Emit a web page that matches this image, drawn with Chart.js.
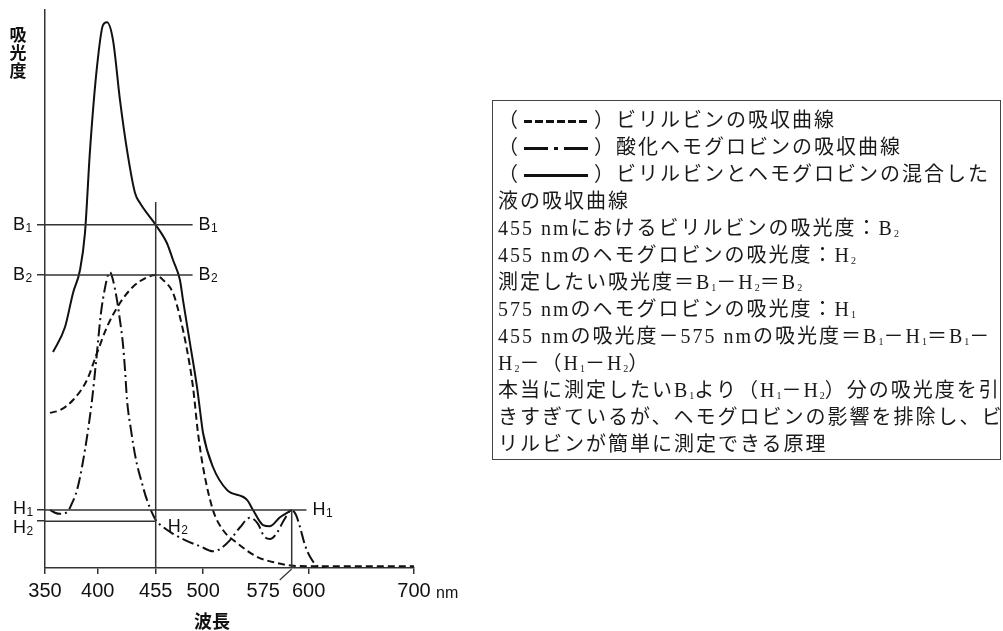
<!DOCTYPE html>
<html>
<head>
<meta charset="utf-8">
<script src="https://cdn.jsdelivr.net/npm/chart.js@4.4.1/dist/chart.umd.min.js"></script>
<style>
body { margin: 0; background: #fff; }
#wrap { position: relative; width: 1003px; height: 631px; overflow: hidden; }
#chart { position: absolute; left: 0; top: 0; }
#note {
    position: absolute; left: 492px; top: 100px; width: 509px; height: 360px;
    box-sizing: border-box; border: 1px solid #444;
    padding: 6px 0 0 5px;
    font-family: "Liberation Serif", "Noto Sans CJK JP", serif;
    font-size: 20px; line-height: 27px; letter-spacing: 2px; color: #1a1a1a;
    white-space: nowrap;
}
#note sub { font-size: 10px; vertical-align: -2px; line-height: 0; letter-spacing: 0; }
.sym { display: inline-block; width: 64px; height: 3px; margin: 0 6px 0 4px; vertical-align: middle; position: relative; top: -1px; }
.sym.dash { background: repeating-linear-gradient(90deg, #111 0 8px, transparent 8px 11px); }
.sym.dashdot { background: linear-gradient(90deg, #111 0 24px, transparent 24px 30px, #111 30px 34px, transparent 34px 40px, #111 40px 64px); }
.sym.solid { background: #111; }
</style>
</head>
<body>
<div id="wrap">
<canvas id="chart" width="1003" height="631"></canvas>
<div id="note">
<div>（<span class="sym dash"></span>）ビリルビンの吸収曲線</div>
<div>（<span class="sym dashdot"></span>）酸化ヘモグロビンの吸収曲線</div>
<div>（<span class="sym solid"></span>）ビリルビンとヘモグロビンの混合した</div>
<div>液の吸収曲線</div>
<div>455 nmにおけるビリルビンの吸光度：B<sub>2</sub></div>
<div>455 nmのヘモグロビンの吸光度：H<sub>2</sub></div>
<div>測定したい吸光度＝B<sub>1</sub>－H<sub>2</sub>＝B<sub>2</sub></div>
<div>575 nmのヘモグロビンの吸光度：H<sub>1</sub></div>
<div>455 nmの吸光度－575 nmの吸光度＝B<sub>1</sub>－H<sub>1</sub>＝B<sub>1</sub>－</div>
<div>H<sub>2</sub>－（H<sub>1</sub>－H<sub>2</sub>）</div>
<div>本当に測定したいB<sub>1</sub>より（H<sub>1</sub>－H<sub>2</sub>）分の吸光度を引</div>
<div>きすぎているが、ヘモグロビンの影響を排除し、ビ</div>
<div>リルビンが簡単に測定できる原理</div>
</div>
</div>
<script>
"use strict";
// wavelength (nm) / absorbance (arbitrary 0-100)
const mixX = [357.6, 369, 376.6, 383.2, 387.9, 392.7, 399.3, 405, 408.8, 414.5, 421.1, 427.8, 435.4, 440.1, 455, 465.7, 471.4, 478, 480.9, 487.5, 494.2, 497, 499.9, 509.3, 522.6, 541.6, 547.3, 556.8, 563.4, 572.9, 584];
const mixY = [38.7, 43.2, 49.3, 53.4, 60.0, 74.9, 89.8, 97.3, 97.8, 94.6, 83.9, 74.9, 67.2, 65.4, 61.5, 58.2, 55.2, 51.6, 48.0, 40.3, 32.4, 28.3, 24.2, 18.1, 14.0, 12.2, 10.4, 7.7, 7.5, 9.1, 10.4];

const biliX = [354.7, 364.2, 376.6, 389.8, 399.3, 408.8, 421.1, 433.5, 446.7, 455, 462, 471.4, 478, 484.7, 490.4, 495.1, 499.9, 509.3, 518.8, 532.1, 551.1, 570, 585.2, 607.9, 700];
const biliY = [27.8, 28.3, 30.1, 33.7, 38.5, 43.2, 47.5, 50.4, 52.1, 52.5, 51.6, 49.3, 45.0, 39.1, 32.4, 24.2, 18.1, 10.4, 6.8, 4.5, 2.0, 0.9, 0.4, 0.3, 0.3];

const oxyX = [354.7, 359.5, 364.2, 370.9, 375.6, 380.4, 385.1, 390.8, 394.6, 398.4, 403.1, 406.9, 409.8, 411.7, 414.5, 418.3, 421.1, 424, 425.9, 427.8, 431.6, 436.3, 441.1, 446.7, 455, 461, 470, 482.8, 497, 509.3, 516, 525.5, 535, 544.4, 552, 557.7, 563.4, 570, 576.7, 584, 588.1, 591.9, 596.6, 601.4, 608, 615.6];
const oxyY = [10.4, 9.9, 9.7, 10.0, 11.6, 14.0, 18.1, 24.7, 30.1, 36.9, 45.7, 50.2, 52.5, 53.0, 51.6, 48.0, 44.4, 40.0, 35.5, 30.1, 24.7, 19.4, 15.8, 12.2, 8.6, 7.5, 6.3, 5.0, 3.9, 3.0, 3.4, 5.0, 7.3, 9.0, 7.9, 5.7, 5.2, 6.3, 8.6, 10.4, 9.5, 7.3, 4.1, 2.0, 0.4, 0];

// reference levels B1, B2, H1, H2
const levelMain = ['B', 'B', 'H', 'H'];
const levelSub = ['1', '2', '1', '2'];
const levelValue = [61.5, 52.5, 10.4, 8.4];
const levelEnd = [490, 490, 598, 455];

// x tick labels
const xTicks = [350, 400, 455, 500, 575, 600, 700];
const label575At = 557;   // where the 575 label sits (it is led off by a small line)
const mark575At = 584;    // where the 575 mark meets the curve peak
const mark455Top = 65.6;

const pts = (xs, ys) => xs.map((v, i) => ({ x: v, y: ys[i] }));
const ink = '#111';
const guide = '#333';

const guideSets = levelValue.map((v, i) => ({
    data: [{ x: 350, y: v }, { x: levelEnd[i], y: v }],
    borderColor: guide, borderWidth: 1.5, pointRadius: 0, tension: 0
}));
guideSets.push({ data: [{ x: 455, y: 0 }, { x: 455, y: mark455Top }], borderColor: guide, borderWidth: 1.5, pointRadius: 0 });
guideSets.push({ data: [{ x: mark575At, y: 0 }, { x: mark575At, y: levelValue[2] }], borderColor: guide, borderWidth: 1.5, pointRadius: 0 });

const curve = (data, dash) => ({
    data: data, borderColor: ink, borderWidth: 2, borderDash: dash,
    pointRadius: 0, cubicInterpolationMode: 'monotone', fill: false
});

function subLabel(ctx, main, sub, px, py) {
    ctx.font = '18px "Liberation Sans", Arial, sans-serif';
    ctx.textAlign = 'left';
    ctx.textBaseline = 'middle';
    ctx.fillText(main, px, py);
    const w = ctx.measureText(main).width;
    ctx.font = '12px "Liberation Sans", Arial, sans-serif';
    ctx.fillText(sub, px + w + 0.5, py + 4);
}

const annot = {
    id: 'annot',
    afterDraw(chart) {
        const ctx = chart.ctx;
        const x = chart.scales.x, y = chart.scales.y;
        ctx.save();
        ctx.fillStyle = ink;
        levelValue.forEach((v, i) => {
            const py = y.getPixelForValue(v);
            const dy = (i === 3) ? 7 : (i === 2 ? -1 : 0);
            subLabel(ctx, levelMain[i], levelSub[i], 13, py + dy);
            if (i === 3) {
                subLabel(ctx, levelMain[i], levelSub[i], x.getPixelForValue(levelEnd[i]) + 12, py + 6);
            } else {
                subLabel(ctx, levelMain[i], levelSub[i], x.getPixelForValue(levelEnd[i]) + 6, py);
            }
        });
        // leader from the 575 mark to its label
        const bx = x.getPixelForValue(mark575At);
        ctx.strokeStyle = guide;
        ctx.lineWidth = 1.2;
        ctx.beginPath();
        ctx.moveTo(bx, y.bottom + 1);
        ctx.lineTo(bx - 12, y.bottom + 12);
        ctx.stroke();
        // axis titles
        ctx.font = 'bold 17px "Noto Sans CJK JP", sans-serif';
        ctx.textAlign = 'center';
        ctx.textBaseline = 'middle';
        ['吸', '光', '度'].forEach((c, i) => ctx.fillText(c, 18, 35 + i * 18));
        ctx.font = 'bold 18px "Noto Sans CJK JP", sans-serif';
        ctx.fillText('波長', 212, 621);
        ctx.font = '16px "Liberation Sans", Arial, sans-serif';
        ctx.textAlign = 'left';
        ctx.fillText('nm', x.getPixelForValue(700) + 22, 594);
        ctx.restore();
    }
};

new Chart(document.getElementById('chart'), {
    type: 'line',
    data: {
        datasets: guideSets.concat([
            curve(pts(biliX, biliY), [7, 4]),
            curve(pts(oxyX, oxyY), [12, 4, 2, 4]),
            curve(pts(mixX, mixY), [])
        ])
    },
    options: {
        responsive: false,
        devicePixelRatio: 1,
        animation: false,
        layout: { padding: { left: 0, top: 10, right: 589, bottom: 0 } },
        plugins: { legend: { display: false }, tooltip: { enabled: false } },
        scales: {
            x: {
                type: 'linear', min: 350, max: 700,
                afterFit: s => { s.height = 63; },
                afterBuildTicks: s => {
                    s.ticks = xTicks.map(v => ({ value: v === 575 ? label575At : v }));
                },
                ticks: {
                    autoSkip: false, maxRotation: 0, padding: 5, color: ink,
                    font: { family: '"Liberation Sans", Arial, sans-serif', size: 20 },
                    callback: (v, i) => String(xTicks[i])
                },
                grid: {
                    drawOnChartArea: false, drawTicks: true, tickLength: 6, lineWidth: 1.5,
                    color: c => (c.tick && c.tick.value === label575At) ? 'rgba(0,0,0,0)' : guide
                },
                border: { display: true, color: guide, width: 1.5 }
            },
            y: {
                type: 'linear', min: 0, max: 100,
                afterFit: s => { s.width = 45; },
                afterBuildTicks: s => {
                    s.ticks = levelValue.map(v => ({ value: v }));
                },
                ticks: { display: false },
                grid: { drawOnChartArea: false, drawTicks: true, tickLength: 8, lineWidth: 1.5, color: guide },
                border: { display: true, color: guide, width: 1.5 }
            }
        }
    },
    plugins: [annot]
});
</script>
</body>
</html>
